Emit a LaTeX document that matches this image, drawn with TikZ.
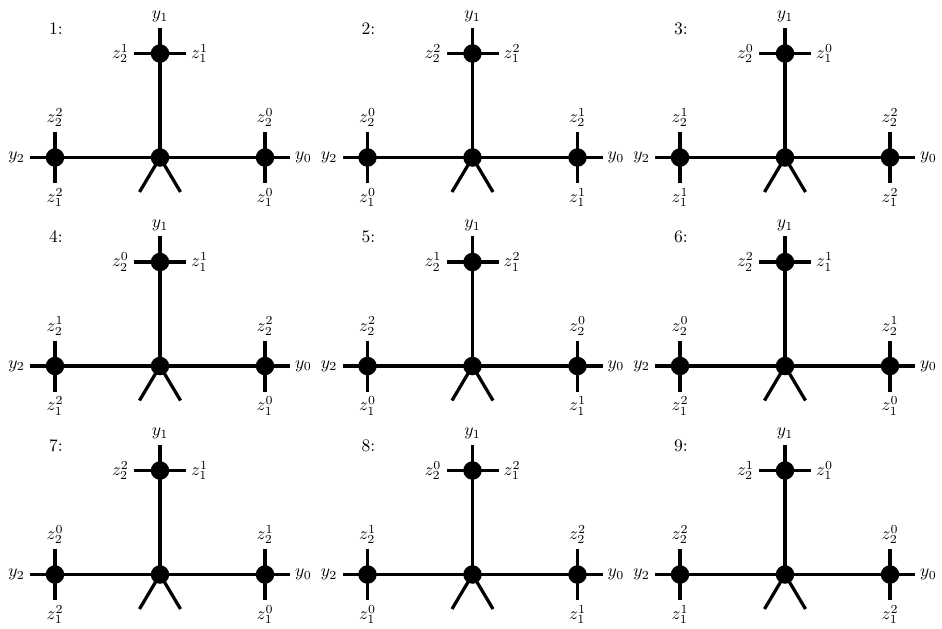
\documentclass[tikz,border=0pt]{standalone}
\usepackage{amsmath, amssymb}
\usepackage{tikz}
\usetikzlibrary{positioning, calc}

\begin{document}
\begin{tikzpicture}[line width=1.85pt,
    vtx/.style={circle, fill=black, draw=none, inner sep=0pt, outer sep=0pt, minimum size=0.37cm},
    lbl/.style={inner sep=2pt}]
\useasboundingbox (0,0) rectangle (18.84,-12.58);
\foreach \n/\px/\py/\ta/\tb/\la/\lb/\ra/\rb in {
    1/3.2/-3.15/1/1/2/2/0/0, 2/9.45/-3.15/2/2/0/0/1/1, 3/15.7/-3.15/0/0/1/1/2/2,
    4/3.2/-7.32/0/1/1/2/2/0, 5/9.45/-7.32/1/2/2/0/0/1, 6/15.7/-7.32/2/1/0/2/1/0,
    7/3.2/-11.49/2/1/0/2/1/0, 8/9.45/-11.49/0/2/1/0/2/1, 9/15.7/-11.49/1/0/2/1/0/2}{
\begin{scope}[shift={(\px,\py)}]
    \node[vtx] (c\n) at (0,0) {};
    \node[vtx] (t\n) at (0,2.08) {};
    \node[vtx] (l\n) at (-2.1,0) {};
    \node[vtx] (r\n) at (2.1,0) {};
    \coordinate (tu\n) at (0,2.6);
    \coordinate (tl\n) at (-0.52,2.08);
    \coordinate (tr\n) at (0.52,2.08);
    \coordinate (lo\n) at (-2.6,0);
    \coordinate (lu\n) at (-2.1,0.51);
    \coordinate (ld\n) at (-2.1,-0.51);
    \coordinate (ro\n) at (2.6,0);
    \coordinate (ru\n) at (2.1,0.51);
    \coordinate (rd\n) at (2.1,-0.51);
    \coordinate (fa\n) at (-0.41,-0.69);
    \coordinate (fb\n) at (0.41,-0.69);
    \draw (c\n.center) -- (t\n.center);
    \draw (l\n.center) -- (c\n.center) -- (r\n.center);
    \draw (c\n.center) -- (fa\n);
    \draw (c\n.center) -- (fb\n);
    \draw (t\n.center) -- (tu\n) node[lbl, above] (ty\n) {$y_1$};
    \draw (t\n.center) -- (tl\n) node[lbl, left] (tz\n) {$z_2^{\ta}$};
    \draw (t\n.center) -- (tr\n) node[lbl, right] (tw\n) {$z_1^{\tb}$};
    \draw (l\n.center) -- (lo\n) node[lbl, left] (ly\n) {$y_2$};
    \draw (l\n.center) -- (lu\n) node[lbl, above] (lz\n) {$z_2^{\la}$};
    \draw (l\n.center) -- (ld\n) node[lbl, below] (lw\n) {$z_1^{\lb}$};
    \draw (r\n.center) -- (ro\n) node[lbl, right] (ry\n) {$y_0$};
    \draw (r\n.center) -- (ru\n) node[lbl, above] (rz\n) {$z_2^{\ra}$};
    \draw (r\n.center) -- (rd\n) node[lbl, below] (rw\n) {$z_1^{\rb}$};
    \node (k\n) at (-2.08,2.58) {\n:};
\end{scope}
}
\end{tikzpicture}
\end{document}
